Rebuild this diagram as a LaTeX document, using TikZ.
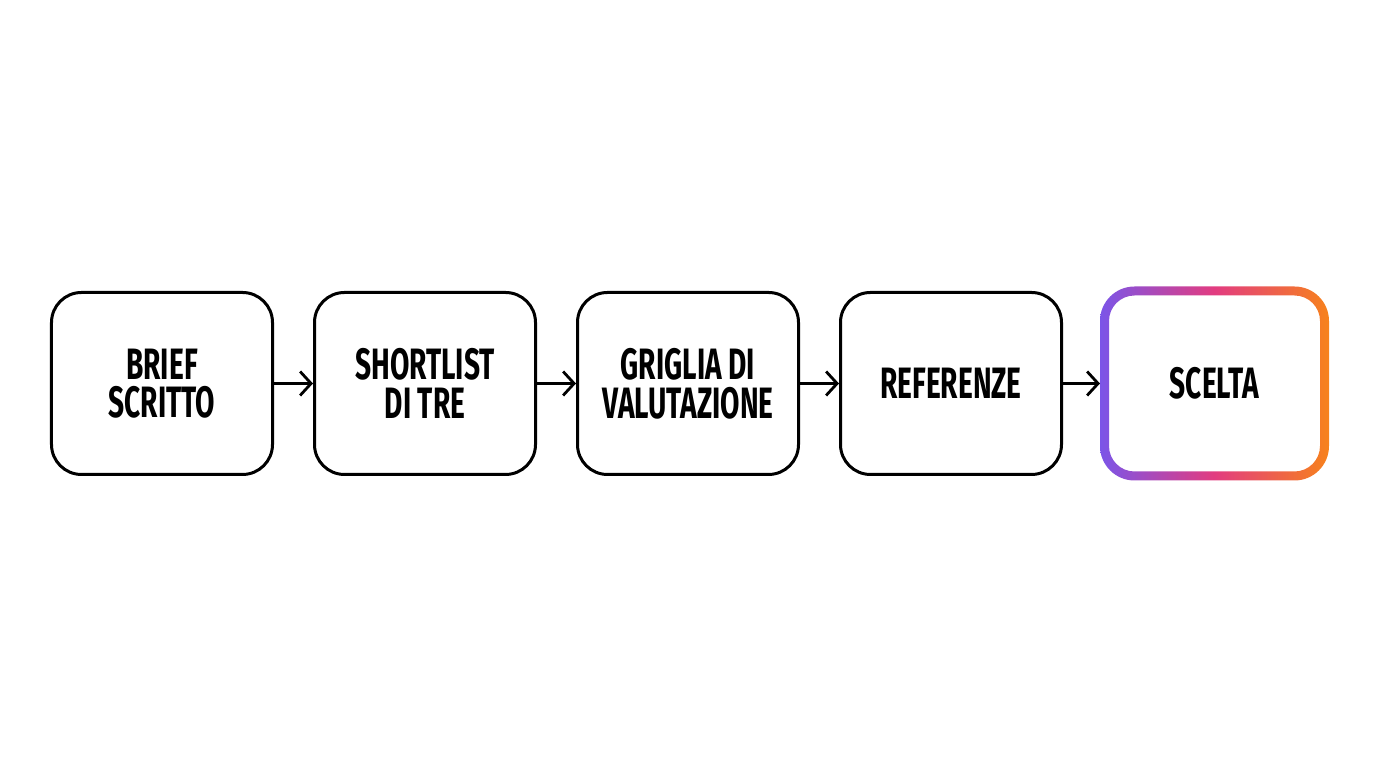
\documentclass[tikz,border=0pt]{standalone}
\usepackage{fontspec}
\setmainfont{Fira Sans}[FakeStretch=0.64]
\usetikzlibrary{arrows.meta}
\usetikzlibrary{positioning}
\definecolor{mpurple}{HTML}{7B55E8}
\definecolor{mpink}{HTML}{E23C80}
\definecolor{morange}{HTML}{F7821C}
\pgfdeclarehorizontalshading{ringshade}{100bp}{color(0bp)=(mpurple); color(25bp)=(mpurple);
  color(50bp)=(mpink); color(75bp)=(morange); color(100bp)=(morange)}
\tikzset{stepbox/.style = {draw, line width = 0.03cm, rounded corners = 0.3cm,
                           minimum width = 2.21cm, minimum height = 1.82cm,
                           inner sep = 0, align = center,
                           font = \bfseries\fontsize{12.5}{11}\selectfont}}
\tikzset{flow/.style = {line width = 0.028cm,
                        -{Straight Barb[length = 0.11cm, width = 0.24cm, line width = 0.028cm]}}}

\begin{document}
\begin{tikzpicture}
    \useasboundingbox (0, 0) rectangle (13.76, 7.68);

    \node [stepbox] (brief) at (1.62, 3.845) {BRIEF\\SCRITTO};
    \node [stepbox, right = 0.39cm of brief] (shortlist) {SHORTLIST\\DI TRE};
    \node [stepbox, right = 0.39cm of shortlist] (griglia) {GRIGLIA DI\\VALUTAZIONE};
    \node [stepbox, right = 0.39cm of griglia] (referenze) {REFERENZE};
    \node [stepbox, draw = none, outer sep = 0.045cm, minimum width = 2.20cm,
           minimum height = 1.85cm, right = 0.37cm of referenze] (scelta) {SCELTA};

    % gradient ring round the last step
    \shade [shading = ringshade, even odd rule]
      [rounded corners = 0.345cm] (scelta.south west) rectangle (scelta.north east)
      [rounded corners = 0.255cm] ([shift = {(0.09, 0.09)}] scelta.south west)
        rectangle ([shift = {(-0.09, -0.09)}] scelta.north east);

    \draw [flow] (brief) -- (shortlist);
    \draw [flow] (shortlist) -- (griglia);
    \draw [flow] (griglia) -- (referenze);
    \draw [flow] (referenze) -- (scelta);
  \end{tikzpicture}
\end{document}
